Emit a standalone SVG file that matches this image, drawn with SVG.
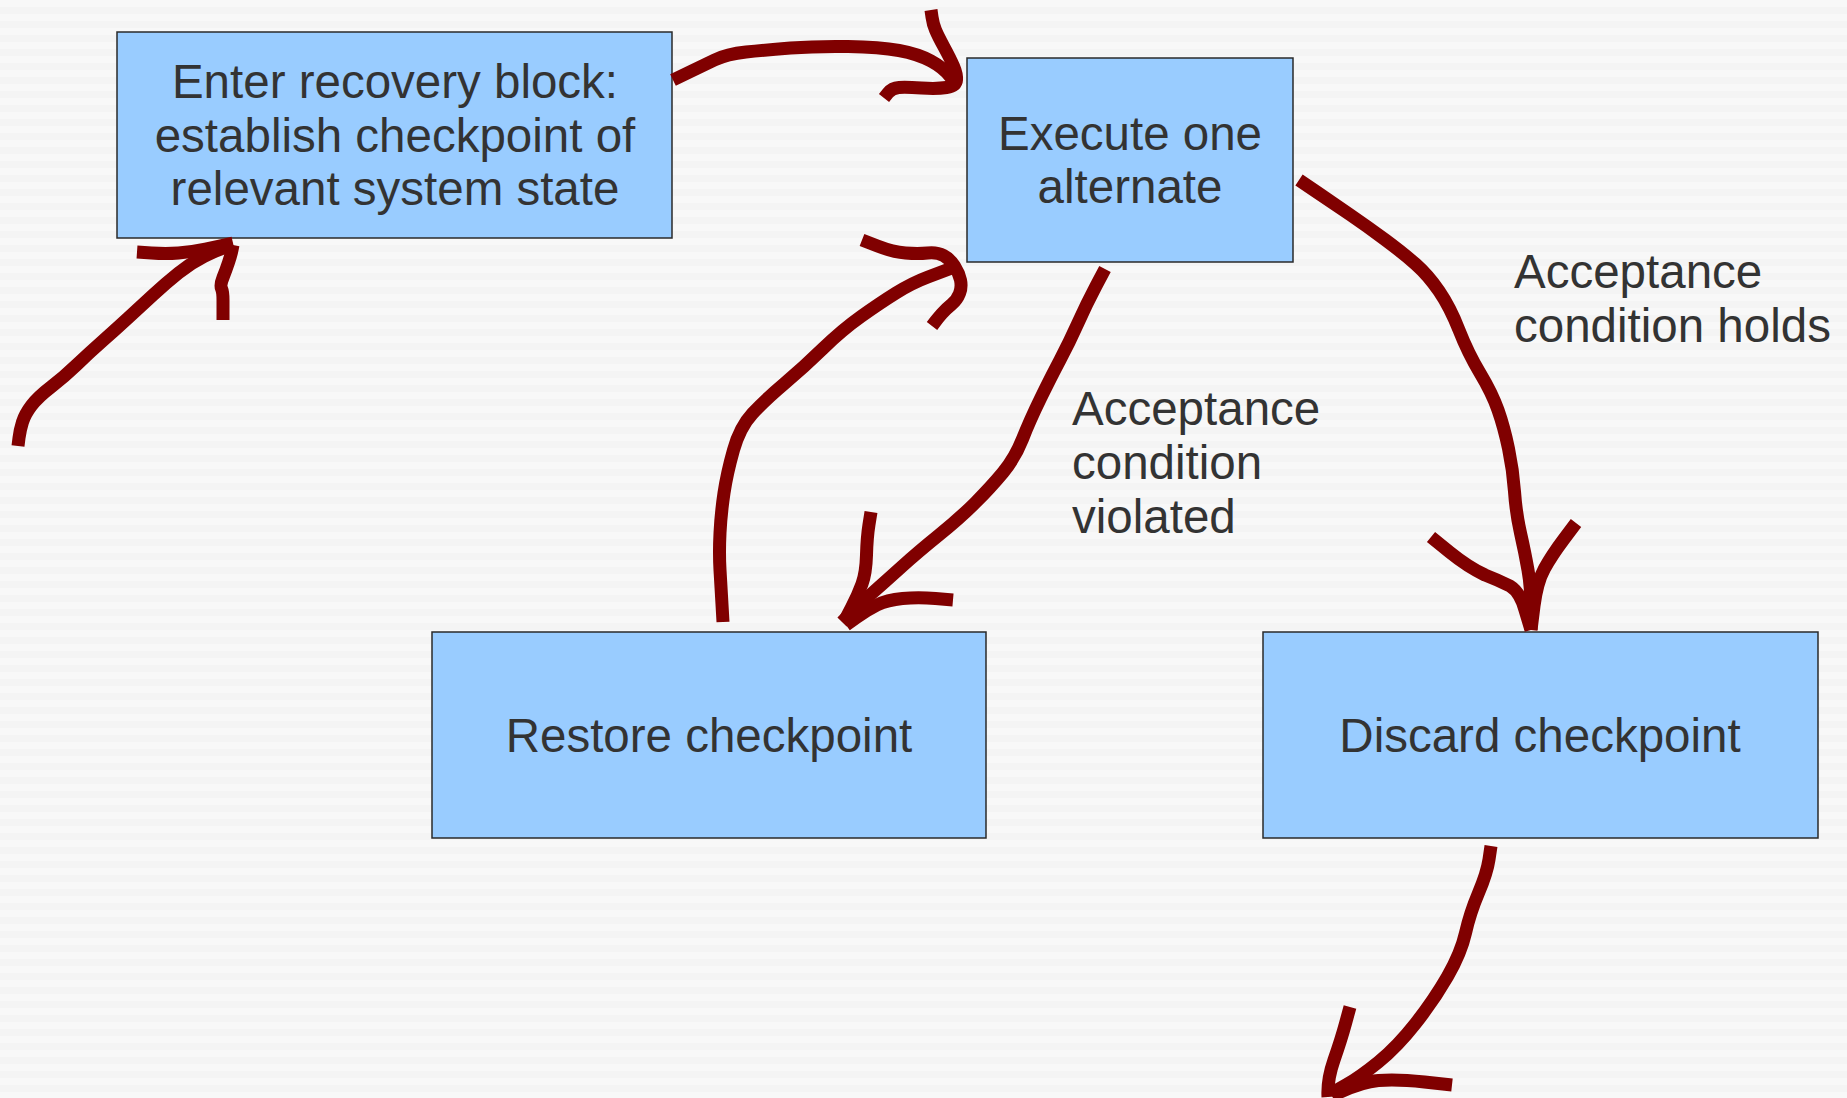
<svg xmlns="http://www.w3.org/2000/svg" width="1847" height="1098" viewBox="0 0 1847 1098">
<defs>
<pattern id="bg" width="20" height="14" patternUnits="userSpaceOnUse">
<rect width="20" height="14" fill="#f8f8f8"/>
<rect y="7" width="20" height="7" fill="#f4f4f4"/>
</pattern>
<style>
.box{fill:#99ccff;stroke:#2a2a2a;stroke-width:1.5}
.lbl{font-family:"Liberation Sans",Arial,sans-serif;font-size:47.5px;fill:#333333}
.c{text-anchor:middle}
.ink{fill:none;stroke:#800000;stroke-width:13;stroke-linejoin:round;stroke-linecap:butt}
</style>
</defs>
<rect width="1847" height="1098" fill="url(#bg)"/>

<g id="node-enter">
<rect class="box" x="117" y="32" width="555" height="206"/>
<text class="lbl c" x="395" y="98">Enter recovery block:</text>
<text class="lbl c" x="395" y="152">establish checkpoint of</text>
<text class="lbl c" x="395" y="205">relevant system state</text>
</g>
<g id="node-execute">
<rect class="box" x="967" y="58" width="326" height="204"/>
<text class="lbl c" x="1130" y="150">Execute one</text>
<text class="lbl c" x="1130" y="203">alternate</text>
</g>
<g id="node-restore">
<rect class="box" x="432" y="632" width="554" height="206"/>
<text class="lbl c" x="709" y="752">Restore checkpoint</text>
</g>
<g id="node-discard">
<rect class="box" x="1263" y="632" width="555" height="206"/>
<text class="lbl c" x="1540" y="752">Discard checkpoint</text>
</g>
<g id="label-holds">
<text class="lbl" x="1514" y="288">Acceptance</text>
<text class="lbl" x="1514" y="342">condition holds</text>
</g>
<g id="label-violated">
<text class="lbl" x="1072" y="425">Acceptance</text>
<text class="lbl" x="1072" y="479">condition</text>
<text class="lbl" x="1072" y="533">violated</text>
</g>

<g id="connectors">
<!-- entry -->
<path class="ink" d="M18,446 L19,438 Q20,430 22.5,422 Q25,414 31.5,405.5 Q38,397 51,387 Q64,377 76.5,365 Q89,353 102,341.5 Q115,330 127.5,318.5 Q140,307 153,295 Q166,283 178.5,273 Q191,263 204,256.5 Q217,250 225,247.5 L233,245"/>
<path class="ink" d="M137,252 L151.5,253 Q166,254 178.5,253 Q191,252 205.5,249 Q220,246 233,243"/>
<path class="ink" d="M233,245 L232,250 Q231,255 228.5,262.5 Q226,270 223,277.5 Q220,285 221.5,288.5 Q223,292 223,300 L223,320"/>
<!-- enter -> execute -->
<path class="ink" d="M673,80 L687.5,73 Q702,66 714.5,60 Q727,54 746,52 Q765,50 790.5,48 Q816,46 848,46.5 Q880,47 899,50.5 Q918,54 931,61 Q944,68 950.5,77 L957,86"/>
<path class="ink" d="M931,10 L932,17 Q933,24 935.5,30 Q938,36 944,47 Q950,58 953.5,66 Q957,74 956.5,80 Q956,86 946.5,87.5 Q937,89 921.5,88 Q906,87 899,87.5 Q892,88 888,93 L884,98"/>
<!-- restore -> execute (retry) -->
<path class="ink" d="M723,622 L722,604.5 Q721,587 720,570 Q719,553 720,533 Q721,513 724,493 Q727,473 733.5,450 Q740,427 752.5,413.5 Q765,400 784.5,383.5 Q804,367 823,348.5 Q842,330 861,316.5 Q880,303 896,293 Q912,283 928,277 Q944,271 950.5,268.5 L957,266"/>
<path class="ink" d="M862,240 L877.5,246 Q893,252 905.5,253 Q918,254 927.5,253 Q937,252 943.5,255.5 Q950,259 954.5,266 Q959,273 960.5,280 Q962,287 959.5,293.5 Q957,300 951.5,304.5 Q946,309 942,313.5 Q938,318 935,322 L932,326"/>
<!-- execute -> restore (violated) -->
<path class="ink" d="M1105,269 L1096,286 Q1087,303 1078,323 Q1069,343 1060,360 Q1051,377 1040.5,398.5 Q1030,420 1022.5,439 Q1015,458 1003,472.5 Q991,487 975.5,502.5 Q960,518 939,535 Q918,552 902.5,566 Q887,580 874,591.5 Q861,603 851.5,612.5 L842,622"/>
<path class="ink" d="M871,512 L869,524.5 Q867,537 866.5,555 Q866,573 862,584 Q858,595 851.5,607.5 L845,620"/>
<path class="ink" d="M953,600 L935.5,598.5 Q918,597 902.5,598.5 Q887,600 877,605 Q867,610 856.5,617.5 L846,625"/>
<!-- execute -> discard (holds) -->
<path class="ink" d="M1299,180 L1316,191.5 Q1333,203 1350.5,215 Q1368,227 1385.5,240 Q1403,253 1415.5,264 Q1428,275 1439,291 Q1450,307 1459,330 Q1468,353 1480,373 Q1492,393 1498,410 Q1504,427 1508.5,448.5 Q1513,470 1514.5,491.5 Q1516,513 1520.5,533 Q1525,553 1528,570 Q1531,587 1531,608.5 L1531,630"/>
<path class="ink" d="M1431,537 L1449.5,552 Q1468,567 1485,575 Q1498,580 1510,586 Q1520,592 1525,610 L1531,630"/>
<path class="ink" d="M1576,523 L1564,539 Q1552,555 1544.5,568.5 Q1537,582 1534,606 L1531,630"/>
<!-- discard -> exit -->
<path class="ink" d="M1491,846 L1489,859.5 Q1487,873 1478.5,893 Q1470,913 1465.5,933 Q1461,953 1447.5,976.5 Q1434,1000 1415.5,1023.5 Q1397,1047 1378.5,1062 Q1360,1077 1346,1085 L1332,1093"/>
<path class="ink" d="M1350,1007 L1345.5,1023.5 Q1341,1040 1334,1060 Q1327,1080 1328,1097"/>
<path class="ink" d="M1452,1085 L1424.5,1082 Q1397,1079 1378.5,1080.5 Q1360,1082 1332,1096"/>
</g>
</svg>
